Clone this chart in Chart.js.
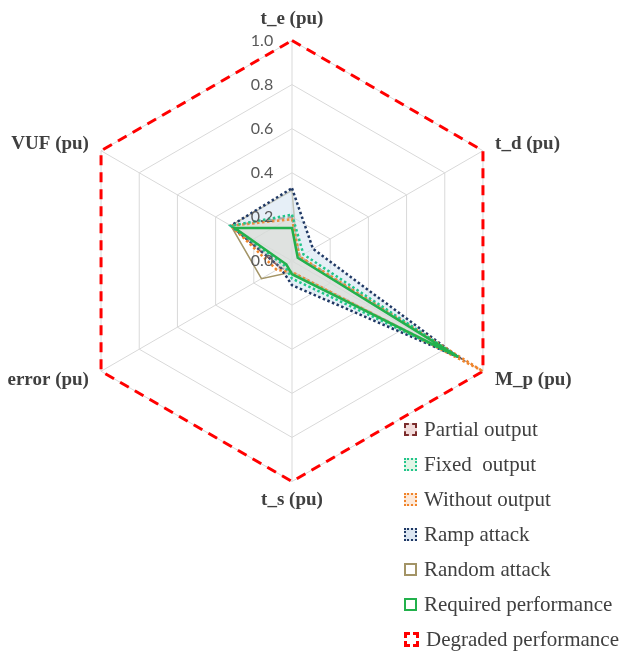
<!DOCTYPE html>
<html>
<head>
<meta charset="utf-8">
<script src="https://cdn.jsdelivr.net/npm/chart.js@4.4.1/dist/chart.umd.min.js"></script>
<style>
  html, body { margin: 0; padding: 0; background: #fff; }
  #wrap { position: relative; width: 624px; height: 653px; }
  #legend { position: absolute; left: 404px; top: 412px; font-family: "Liberation Serif", serif; font-size: 21px; color: #404040; }
  .item { height: 35px; display: flex; align-items: center; white-space: pre; }
  .box { width: 9px; height: 9px; margin-right: 7px; box-sizing: content-box; }
</style>
</head>
<body>
<div id="wrap">
  <canvas id="c" width="624" height="653"></canvas>
  <div id="legend"></div>
</div>
<script>
const categories = ['t_e (pu)', 't_d (pu)', 'M_p (pu)', 't_s (pu)', 'error (pu)', 'VUF (pu)'];
const tickLabels = ['0.0', '0.2', '0.4', '0.6', '0.8', '1.0'];

const partialOutput   = [0.20, 0.04, 0.87, 0.05, 0.06, 0.32];
const fixedOutput     = [0.21, 0.06, 0.87, 0.08, 0.04, 0.32];
const withoutOutput   = [0.19, 0.04, 1.00, 0.05, 0.08, 0.32];
const rampAttack      = [0.33, 0.11, 0.87, 0.11, 0.06, 0.32];
const randomAttack    = [0.32, 0.03, 0.87, 0.05, 0.16, 0.32];
const requiredPerf    = [0.15, 0.03, 0.87, 0.06, 0.03, 0.30];
const degradedPerf    = [1.00, 1.00, 1.00, 1.00, 1.00, 1.00];

const seriesNames = ['Partial output', 'Fixed  output', 'Without output', 'Ramp attack', 'Random attack', 'Required performance', 'Degraded performance'];

const styles = [
  { border: '#7B2C2C', fill: 'rgba(200,185,178,0.45)', legendFill: '#F2DCDB', width: 2, dash: [6, 3], css: 'dashed', bw: 2, order: 5 },
  { border: '#22C58B', fill: 'rgba(198,239,206,0.10)', legendFill: '#E2F5E6', width: 2.5, dash: [2.5, 2.5], css: 'dotted', bw: 2, order: 1 },
  { border: '#F0842A', fill: 'rgba(252,213,180,0.15)', legendFill: '#FDE9D9', width: 2.5, dash: [2.5, 2.5], css: 'dotted', bw: 2, order: 2 },
  { border: '#1F3864', fill: 'rgba(214,228,242,0.60)', legendFill: '#DCE6F1', width: 2.5, dash: [2.5, 2.5], css: 'dotted', bw: 2, order: 3 },
  { border: '#A39466', fill: null, legendFill: '#FFFFFF', width: 1.5, dash: [], css: 'solid', bw: 2, order: 4 },
  { border: '#22B14C', fill: null, legendFill: '#FFFFFF', width: 2.5, dash: [], css: 'solid', bw: 2, order: 0 },
  { border: '#FF0000', fill: null, legendFill: '#FFFFFF', width: 3, dash: [10, 7], css: 'dashed', bw: 3, order: 6 }
];

const allData = [partialOutput, fixedOutput, withoutOutput, rampAttack, randomAttack, requiredPerf, degradedPerf];

const datasets = allData.map((d, i) => ({
  label: seriesNames[i],
  data: d,
  order: styles[i].order,
  borderColor: styles[i].border,
  backgroundColor: styles[i].fill || 'rgba(0,0,0,0)',
  borderWidth: styles[i].width,
  borderDash: styles[i].dash,
  fill: !!styles[i].fill,
  pointRadius: 0,
  pointHoverRadius: 0,
  tension: 0
}));

const tickPad = '\u2003\u2003\u2003\u2003\u2003';
const labelShift = [0, 10, -8, -5, -8, 10];

const labelNudge = {
  id: 'labelNudge',
  beforeDraw(chart) {
    const s = chart.scales.r;
    const items = s && s._pointLabelItems;
    if (!items || items._nudged) return;
    items.forEach((it, i) => {
      const d = labelShift[i] || 0;
      it.y += d; it.top += d; it.bottom += d;
    });
    items._nudged = true;
  }
};

const chart = new Chart(document.getElementById('c'), {
  type: 'radar',
  data: { labels: categories, datasets },
  plugins: [labelNudge],
  options: {
    responsive: false,
    animation: false,
    layout: { padding: { left: 2, right: 46, top: 9, bottom: 136 } },
    plugins: { legend: { display: false }, tooltip: { enabled: false } },
    scales: {
      r: {
        min: -0.000001,
        max: 1,
        ticks: {
          stepSize: 0.2,
          z: 1,
          showLabelBackdrop: false,
          color: '#595959',
          font: { family: 'Lato', size: 16 },
          callback: (v, i) => tickLabels[i] + tickPad
        },
        grid: { color: '#D9D9D9', lineWidth: 1 },
        angleLines: { color: '#D9D9D9', lineWidth: 1 },
        pointLabels: {
          color: '#404040',
          font: { family: 'Liberation Serif', size: 19, weight: 'bold', lineHeight: 1 },
          padding: (ctx) => [1.5, 4, 4, 4.5, 4, 4][ctx.index]
        }
      }
    }
  }
});

const legend = document.getElementById('legend');
seriesNames.forEach((n, i) => {
  const it = document.createElement('div');
  it.className = 'item';
  const b = document.createElement('span');
  b.className = 'box';
  b.style.border = styles[i].bw + 'px ' + styles[i].css + ' ' + styles[i].border;
  b.style.background = styles[i].legendFill;
  it.appendChild(b);
  const t = document.createElement('span');
  t.textContent = n;
  it.appendChild(t);
  legend.appendChild(it);
});
</script>
</body>
</html>
